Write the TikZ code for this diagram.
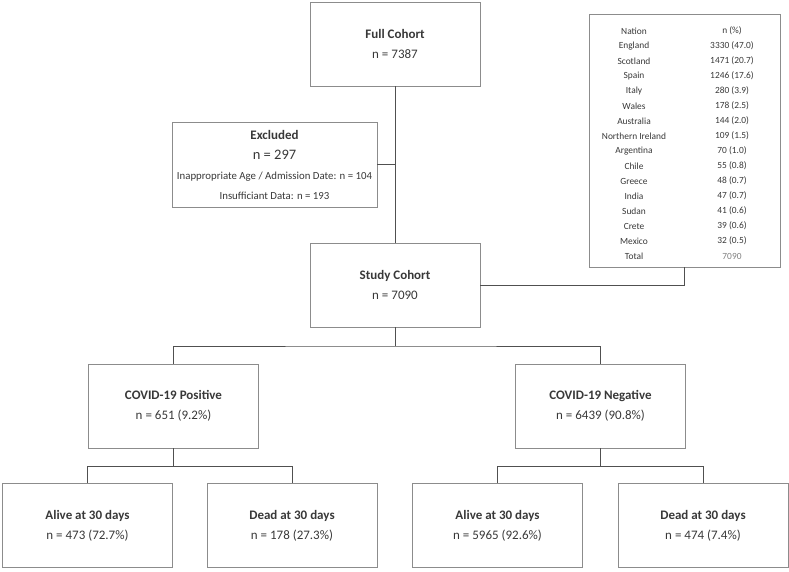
\documentclass[tikz,border=0pt]{standalone}
\usepackage{fontspec}
\setmainfont{Carlito}
\usetikzlibrary{calc}
\definecolor{txtc}{HTML}{383838}
\definecolor{boxc}{HTML}{8C8C8C}
\definecolor{linec}{HTML}{505050}
\tikzstyle{box} = [
  draw=boxc,
  line width=0.8pt,
  minimum width=170pt,
  minimum height=84pt,
  inner sep=0pt,
  align=center,
  text=txtc,
  font=\fontsize{13}{20}\selectfont,
]
\tikzstyle{link} = [draw=linec, line width=1pt]
\tikzstyle{cell} = [text=txtc, inner sep=0pt, font=\fontsize{9.4}{10}\selectfont]

\begin{document}
\begin{tikzpicture}[x=1pt,y=-1pt]
      \useasboundingbox (0,0) rectangle (789,571);

      % Boxes
      \node[box] (full) at (395,44) {\textbf{Full Cohort}\\n = 7387};
      \node[box, minimum width=205pt, minimum height=85pt] (excl) at (274.5,164.5)
        {\fontsize{13}{20}\selectfont\textbf{Excluded}\\
         \fontsize{14.5}{20}\selectfont n = 297\\
         \fontsize{10.8}{20}\selectfont Inappropriate Age / Admission Date: n = 104\\
         \fontsize{10.8}{15}\selectfont Insufficiant Data: n = 193};
      \node[box] (study) at (395,285) {\textbf{Study Cohort}\\n = 7090};
      \node[box] (pos) at (173.5,406) {\textbf{COVID-19 Positive}\\n = 651 (9.2\%)};
      \node[box] (neg) at (600.5,406) {\textbf{COVID-19 Negative}\\n = 6439 (90.8\%)};
      \node[box] (posalive) at (87.5,525.5) {\textbf{Alive at 30 days}\\n = 473 (72.7\%)};
      \node[box] (posdead) at (292,525.5) {\textbf{Dead at 30 days}\\n = 178 (27.3\%)};
      \node[box] (negalive) at (497.5,525.5) {\textbf{Alive at 30 days}\\n = 5965 (92.6\%)};
      \node[box] (negdead) at (703,525.5) {\textbf{Dead at 30 days}\\n = 474 (7.4\%)};

      % Nations table
      \node[draw=boxc, line width=0.8pt, minimum width=191pt, minimum height=253pt,
        inner sep=0pt] (nations) at (684.5,140.5) {};
      \foreach \name/\val [count=\i] in {Nation/n (\%), England/3330 (47.0),
        Scotland/1471 (20.7), Spain/1246 (17.6), Italy/280 (3.9), Wales/178 (2.5),
        Australia/144 (2.0), Northern Ireland/109 (1.5), Argentina/70 (1.0),
        Chile/55 (0.8), Greece/48 (0.7), India/47 (0.7), Sudan/41 (0.6),
        Crete/39 (0.6), Mexico/32 (0.5)} {
        \node[cell] (c\i) at (634,16+15*\i) {\name};
        \node[cell] (v\i) at (732,16+15*\i) {\val};
      }
      \node[cell] (c16) at (634,256) {Total};
      \node[cell, text=gray] (v16) at (732,256) {7090};

      % Connectors
      \coordinate (sj) at (395,346);
      \coordinate (pj) at (173.5,466);
      \coordinate (nj) at (600.5,466);
      \draw[link] (full.south) -- (study.north);
      \draw[link] (excl.east) -- (excl.east -| full.south);
      \draw[link] (study.east) -| (nations.south);
      \draw[link] (study.south) -- (sj);
      \draw[link] (pos.north) |- (sj) -| (neg.north);
      \draw[link] (pos.south) -- (pj);
      \draw[link] (posalive.north) |- (pj) -| (posdead.north);
      \draw[link] (neg.south) -- (nj);
      \draw[link] (negalive.north) |- (nj) -| (negdead.north);
\end{tikzpicture}
\end{document}
